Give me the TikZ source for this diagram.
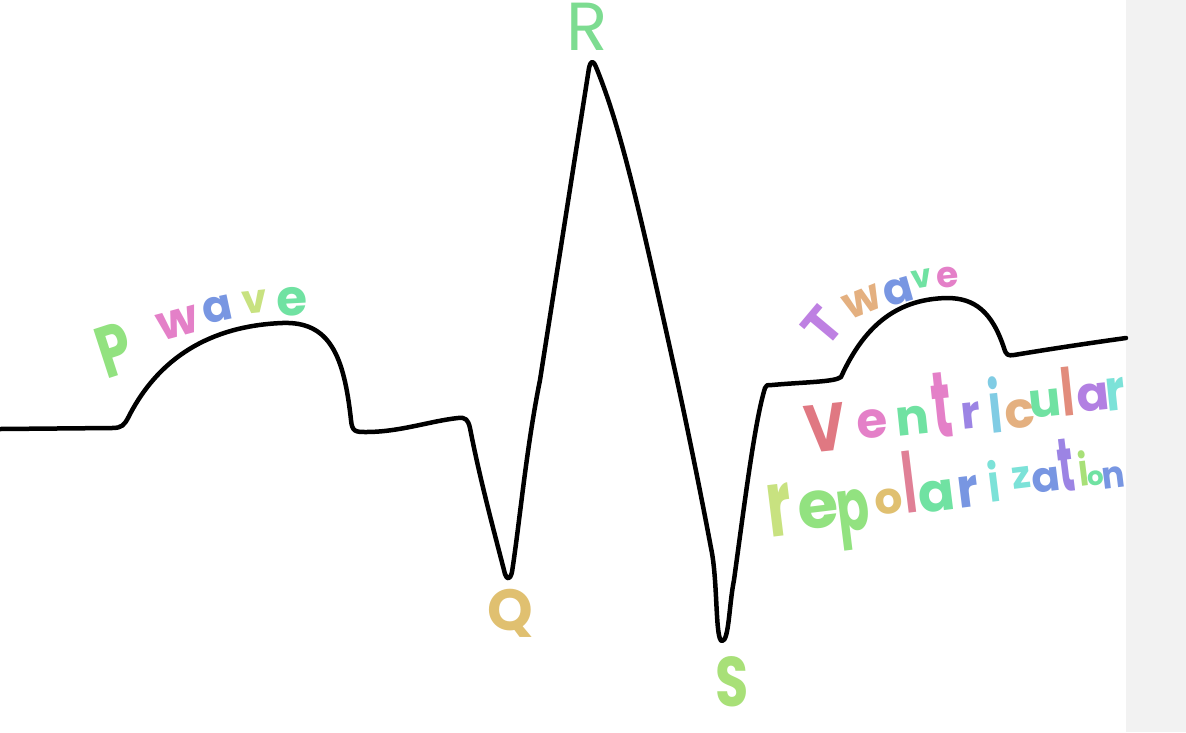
\documentclass[tikz,border=0pt]{standalone}
\usepackage{fontspec}
\setmainfont{Poppins}
\definecolor{hgreen}{RGB}{125,220,145}
\definecolor{htan}{RGB}{224,192,112}
\definecolor{hlime}{RGB}{168,224,120}
\definecolor{hpgreen}{RGB}{146,226,128}
\definecolor{hpink}{RGB}{228,128,200}
\definecolor{hblue}{RGB}{120,150,226}
\definecolor{hyell}{RGB}{200,226,128}
\definecolor{hmint}{RGB}{112,226,162}
\definecolor{horange}{RGB}{228,176,128}
\definecolor{hpurple}{RGB}{156,132,228}
\definecolor{hred}{RGB}{224,120,130}
\definecolor{hcyan}{RGB}{128,204,228}
\definecolor{hsalmon}{RGB}{226,140,124}
\definecolor{hviolet}{RGB}{178,128,226}
\definecolor{hteal}{RGB}{124,226,216}
\definecolor{hrose}{RGB}{224,128,150}
\definecolor{hmauve}{RGB}{190,128,226}
\definecolor{gstrip}{RGB}{242,242,242}
\begin{document}
\begin{tikzpicture}[x=1pt,y=-1pt,
  ecg/.style={line width=4.5pt, line join=round, line cap=round, black},
  lt/.style n args={3}{inner sep=0pt, anchor=center,
    font=\fontsize{#1}{#1}\selectfont\bfseries, rotate=#2, yscale=#3},
  ltr/.style n args={3}{inner sep=0pt, anchor=center,
    font=\fontsize{#1}{#1}\selectfont, rotate=#2, yscale=#3}]
\useasboundingbox (0,0) rectangle (1186,732);
\fill[white] (0,0) rectangle (1186,732);
\fill[gstrip] (1126,0) rectangle (1186,732);

% ECG trace
\coordinate (c0) at (0,429);
\coordinate (c1) at (1126,338);
\draw[ecg] (c0) -- (112,428)
  .. controls (122,428) and (124,425) .. (128,418)
  .. controls (158,358) and (210,326) .. (282,323)
  .. controls (330,321) and (344,356) .. (351,420)
  .. controls (352,432) and (356,432) .. (366,432)
  .. controls (400,432) and (430,421) .. (458,418)
  .. controls (466,417) and (468,420) .. (470,428)
  .. controls (480,480) and (495,535) .. (505,574)
  .. controls (507,580) and (510,580) .. (512,572)
  .. controls (520,520) and (526,450) .. (540,380)
  -- (589,68)
  .. controls (591,60) and (593,60) .. (596,67)
  .. controls (622,130) and (642,222) .. (677,380)
  .. controls (690,440) and (703,505) .. (711,548)
  .. controls (718,580) and (715,641) .. (722,641)
  .. controls (729,641) and (729,605) .. (734,580)
  .. controls (745,500) and (755,420) .. (765,388)
  .. controls (766,385) and (767,385) .. (772,385)
  .. controls (805,382) and (835,382) .. (841,377)
  .. controls (866,322) and (900,299) .. (947,298)
  .. controls (975,298) and (992,312) .. (1004,348)
  .. controls (1006,355) and (1008,356) .. (1014,355)
  .. controls (1050,349) and (1090,343) .. (c1);

% peak labels
\node[ltr={68}{0}{1}, text=hgreen] (lR) at (587,27) {R};
\node[lt={58}{0}{1}, text=htan] (lQ) at (510,613) {Q};
\node[lt={54}{0}{1.3}, text=hlime] (lS) at (732,682) {S};

% P wave
\node[lt={54}{18}{1.35}, text=hpgreen] (pP) at (115,350) {P};
\node[lt={48}{15}{1}, text=hpink] (pw) at (178,323) {w};
\node[lt={44}{12}{1}, text=hblue] (pa) at (218,309) {a};
\node[lt={40}{6}{1}, text=hyell] (pv) at (255,302) {v};
\node[lt={50}{3}{1}, text=hmint] (pe) at (292,302) {e};

% T wave
\node[lt={52}{50}{1}, text=hmauve] (tT) at (822,326) {T};
\node[lt={44}{22}{1}, text=horange] (tw) at (863,302) {w};
\node[lt={44}{16}{1}, text=hblue] (ta) at (898,292) {a};
\node[lt={32}{10}{1}, text=hmint] (tv) at (922,279) {v};
\node[lt={36}{5}{1}, text=hpink] (te) at (948,278) {e};

% Ventricular
\node[lt={56}{6}{1.2}, text=hred] (v1) at (825,428) {V};
\node[lt={50}{6}{1}, text=hpink] (v2) at (872,424) {e};
\node[lt={50}{6}{1}, text=hmint] (v3) at (913,421) {n};
\node[lt={48}{6}{1.95}, text=hpink] (v4) at (942,405) {t};
\node[lt={46}{6}{1}, text=hpurple] (v5) at (971,416) {r};
\node[lt={44}{6}{1.6}, text=hcyan] (v6) at (995,405) {i};
\node[lt={50}{6}{1}, text=horange] (v7) at (1020,414) {c};
\node[lt={48}{6}{1}, text=hmint] (v8) at (1045,404) {u};
\node[lt={44}{6}{1.5}, text=hsalmon] (v9) at (1067,392) {l};
\node[lt={48}{6}{1}, text=hviolet] (v10) at (1093,397) {a};
\node[lt={46}{6}{1.25}, text=hteal] (v11) at (1116,394) {r};

% repolarization
\node[lt={58}{7}{1.6}, text=hyell] (r1) at (780,510) {r};
\node[lt={66}{7}{1}, text=hpgreen] (r2) at (818,510) {e};
\node[lt={48}{7}{1.5}, text=hpgreen] (r3) at (854,520) {p};
\node[lt={44}{7}{1}, text=htan] (r4) at (889,502) {o};
\node[lt={44}{7}{1.9}, text=hrose] (r5) at (909,482) {l};
\node[lt={54}{7}{1}, text=hmint] (r6) at (937,496) {a};
\node[lt={50}{7}{1.1}, text=hblue] (r7) at (968,492) {r};
\node[lt={40}{7}{1.3}, text=hteal] (r8) at (994,481) {i};
\node[lt={38}{7}{1}, text=hteal] (r9) at (1022,478) {z};
\node[lt={42}{7}{1}, text=hblue] (r10) at (1046,480) {a};
\node[lt={38}{7}{2.0}, text=hpurple] (r11) at (1066,465) {t};
\node[lt={34}{7}{1.3}, text=hlime] (r12) at (1083,468) {i};
\node[lt={26}{7}{1}, text=hmint] (r13) at (1096,478) {o};
\node[lt={34}{7}{1.1}, text=hblue] (r14) at (1114,478) {n};
\end{tikzpicture}
\end{document}
